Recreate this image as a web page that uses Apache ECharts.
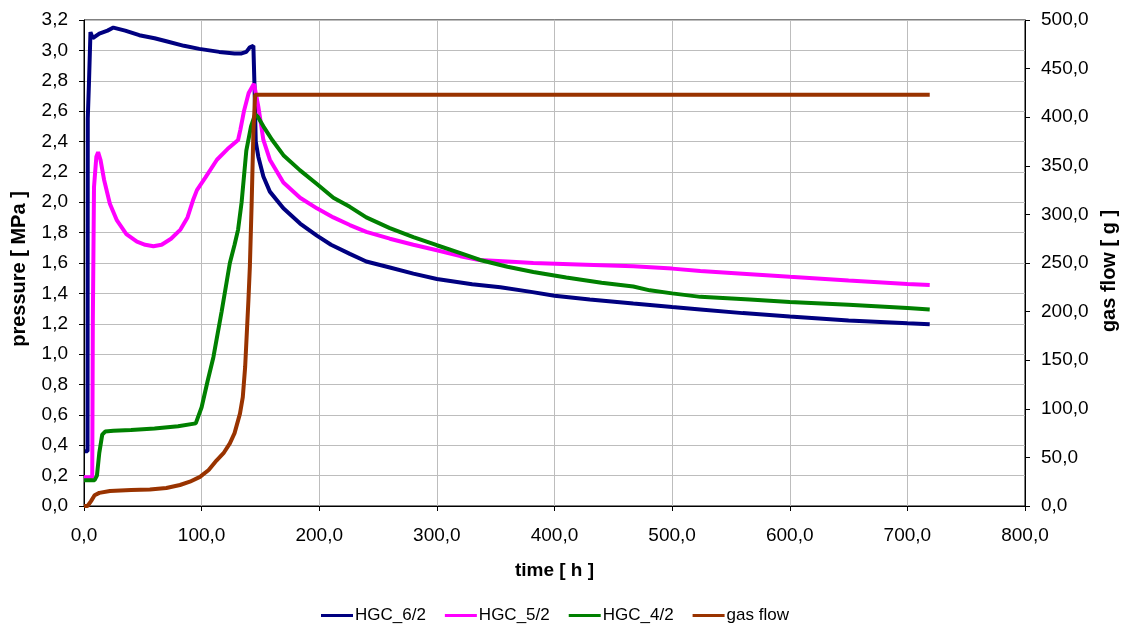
<!DOCTYPE html>
<html>
<head>
<meta charset="utf-8">
<script src="https://cdn.jsdelivr.net/npm/echarts@6/dist/echarts.min.js"></script>
<style>
  html, body { margin: 0; padding: 0; background: #ffffff; }
  #chart { width: 1123px; height: 626px; }
</style>
</head>
<body>
<div id="chart"></div>
<script>
// Pressure readings (MPa) against time (h) for each gauge, and gas flow (g).
const hgc62Time = [0.8, 3, 3.2, 4.2, 5.5, 7.5, 13, 20, 25, 35, 47, 60, 70, 85, 98, 115, 128, 134, 138, 141, 144, 145, 146,
  148.2, 152.5, 158, 169.5, 183.7, 198, 210, 226, 240, 260, 280, 300, 330, 354, 380, 400, 430, 467, 500, 524, 560, 600, 650, 700, 719];
const hgc62Pressure = [0.36, 0.36, 2.55, 2.78, 3.12, 3.08, 3.11, 3.13, 3.15, 3.13, 3.10, 3.08, 3.06, 3.03, 3.01, 2.99, 2.98, 2.98, 2.99, 3.02, 3.03, 2.75, 2.40,
  2.30, 2.17, 2.07, 1.96, 1.86, 1.78, 1.72, 1.66, 1.61, 1.57, 1.53, 1.495, 1.46, 1.44, 1.41, 1.385, 1.36, 1.333, 1.31, 1.294, 1.27, 1.247, 1.222, 1.203, 1.196];

const hgc52Time = [0, 7, 7.5, 8.5, 10.5, 12, 14, 17, 22, 28, 36, 45, 52, 59, 66, 74, 82, 88, 93, 96, 103, 113, 122, 131, 133, 136, 140, 144.5,
  146, 148.2, 152.5, 158, 169.5, 183.7, 198, 212, 226, 240, 260, 280, 300, 320, 336, 360, 382, 420, 467, 500, 524, 560, 600, 650, 700, 719];
const hgc52Pressure = [0.19, 0.19, 1.2, 2.1, 2.30, 2.33, 2.28, 2.15, 1.99, 1.88, 1.79, 1.74, 1.72, 1.71, 1.72, 1.76, 1.82, 1.90, 2.02, 2.08, 2.16, 2.28, 2.35, 2.41, 2.48, 2.60, 2.72, 2.78,
  2.72, 2.63, 2.41, 2.28, 2.13, 2.03, 1.96, 1.90, 1.85, 1.805, 1.76, 1.72, 1.684, 1.645, 1.62, 1.61, 1.60, 1.59, 1.578, 1.563, 1.548, 1.53, 1.509, 1.485, 1.462, 1.455];

const hgc42Time = [0, 9, 11, 13, 15.5, 18, 25, 40, 60, 80, 95, 100, 105, 110, 117, 124, 128, 131, 134, 138, 142, 145.5,
  148, 152.5, 160, 169.5, 183.7, 198, 212, 226, 240, 260, 280, 300, 320, 336.7, 360, 382, 410, 440, 467, 481, 500, 524, 566, 600, 650, 700, 719];
const hgc42Pressure = [0.17, 0.17, 0.20, 0.35, 0.47, 0.49, 0.495, 0.50, 0.51, 0.525, 0.544, 0.65, 0.82, 0.98, 1.28, 1.60, 1.72, 1.82, 2.00, 2.34, 2.50, 2.58,
  2.56, 2.50, 2.41, 2.31, 2.21, 2.12, 2.03, 1.97, 1.90, 1.83, 1.77, 1.717, 1.665, 1.62, 1.575, 1.541, 1.505, 1.47, 1.445, 1.42, 1.40, 1.377, 1.36, 1.344, 1.325, 1.303, 1.294];

const gasTime = [0, 3, 6, 9, 13, 22, 40, 56, 70, 81.6, 90, 98.6, 106, 112.8, 119, 124, 128, 132.6, 135, 137, 139.8, 141, 142.5, 144, 145.5, 719];
const gasFlow = [0, 0, 5, 11, 13.5, 15.5, 16.5, 17, 18.5, 21.6, 25, 30, 37, 47, 55, 64.5, 75, 95, 112, 143, 212, 246, 310, 384, 423, 423];

// Axis tick settings
const timeTicks = { min: 0, max: 800, step: 100 };
const pressureTicks = { min: 0, max: 3.2, step: 0.2 };
const gasTicks = { min: 0, max: 500, step: 50 };

const pairs = (xs, ys) => xs.map((x, i) => [x, ys[i]]);
const commaFmt = v => Number(v).toFixed(1).replace('.', ',');

const FONT = "'Liberation Sans', Arial, sans-serif";
const labelStyle = { color: '#000', fontFamily: FONT, fontSize: 19 };
const axisLineBlack = { show: true, lineStyle: { color: '#000', width: 1 } };
const tickBlack = { show: true, inside: false, length: 5, lineStyle: { color: '#000', width: 1 } };
const gridLine = { show: true, lineStyle: { color: '#bdbdbd', width: 1 } };

const chart = echarts.init(document.getElementById('chart'), null, { renderer: 'canvas' });

const lineSeries = (name, data, color, yIndex) => ({
  name,
  type: 'line',
  yAxisIndex: yIndex,
  data,
  symbol: 'none',
  showSymbol: false,
  smooth: false,
  lineStyle: { color, width: 4 },
  itemStyle: { color },
  animation: false
});

chart.setOption({
  animation: false,
  backgroundColor: '#ffffff',
  grid: {
    left: 84, right: 98, top: 20, bottom: 120,
    outerBoundsMode: 'none',
    containLabel: false,
    show: true, borderColor: '#000', borderWidth: 1, backgroundColor: '#ffffff'
  },
  legend: {
    top: 602,
    left: 316,
    icon: 'rect',
    itemWidth: 32,
    itemHeight: 3,
    itemGap: 19,
    textStyle: { color: '#000', fontFamily: FONT, fontSize: 17, padding: [0, 0, 0, -3] },
    data: ['HGC_6/2', 'HGC_5/2', 'HGC_4/2', 'gas flow']
  },
  xAxis: {
    type: 'value',
    min: timeTicks.min, max: timeTicks.max, interval: timeTicks.step,
    name: 'time [ h ]',
    nameLocation: 'middle',
    nameGap: 55,
    nameTextStyle: { color: '#000', fontFamily: FONT, fontSize: 19, fontWeight: 'bold' },
    axisLine: axisLineBlack,
    axisTick: tickBlack,
    axisLabel: Object.assign({ margin: 20, formatter: commaFmt }, labelStyle),
    splitLine: gridLine
  },
  yAxis: [
    {
      type: 'value',
      position: 'left',
      min: pressureTicks.min, max: pressureTicks.max, interval: pressureTicks.step,
      name: 'pressure [ MPa ]',
      nameLocation: 'middle',
      nameRotate: 90,
      nameGap: 55,
      nameTextStyle: { color: '#000', fontFamily: FONT, fontSize: 20, fontWeight: 'bold', padding: [0, 12, 0, 0] },
      axisLine: axisLineBlack,
      axisTick: tickBlack,
      axisLabel: Object.assign({ margin: 16, formatter: commaFmt }, labelStyle),
      splitLine: gridLine
    },
    {
      type: 'value',
      position: 'right',
      min: gasTicks.min, max: gasTicks.max, interval: gasTicks.step,
      name: 'gas flow [ g ]',
      nameLocation: 'middle',
      nameRotate: 90,
      nameGap: 73,
      nameTextStyle: { color: '#000', fontFamily: FONT, fontSize: 20, fontWeight: 'bold', padding: [0, 16, 0, 0] },
      axisLine: axisLineBlack,
      axisTick: tickBlack,
      axisLabel: Object.assign({ margin: 16, formatter: commaFmt }, labelStyle),
      splitLine: { show: false }
    }
  ],
  series: [
    lineSeries('HGC_6/2', pairs(hgc62Time, hgc62Pressure), '#000080', 0),
    lineSeries('HGC_5/2', pairs(hgc52Time, hgc52Pressure), '#ff00ff', 0),
    lineSeries('HGC_4/2', pairs(hgc42Time, hgc42Pressure), '#008000', 0),
    lineSeries('gas flow', pairs(gasTime, gasFlow), '#993300', 1)
  ]
});
</script>
</body>
</html>
